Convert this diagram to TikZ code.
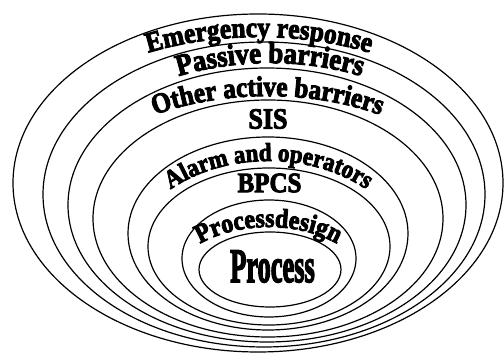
\documentclass[tikz,border=0pt]{standalone}
\usepackage{fontspec}
\setmainfont{Liberation Serif}
\newfontfamily\heavy[BoldFeatures={FakeBold=3.5}]{Liberation Serif}
\usetikzlibrary{decorations.text}
\newcommand\lab[1]{\heavy\bfseries\fontsize{#1}{#1}\selectfont}
\newcommand\vst[1]{\scalebox{1}[1.12]{#1}}
\tikzset{
  ring/.style={line width=1.2pt},
  flat/.style={font=\lab{#1}, inner sep=0pt}
}
\begin{document}
\begin{tikzpicture}[x=1pt,y=1pt]
\useasboundingbox (0,0) rectangle (504,353);
% nested rings
\draw[ring] (258,170) ellipse [x radius=245pt, y radius=169pt];
\draw[ring] (264,158.5) ellipse [x radius=221pt, y radius=152.5pt];
\draw[ring] (267,148) ellipse [x radius=199pt, y radius=137pt];
\draw[ring] (268,134.5) ellipse [x radius=175pt, y radius=118.5pt];
\draw[ring] (268,119.5) ellipse [x radius=140pt, y radius=96.5pt];
\draw[ring] (269,106.5) ellipse [x radius=121pt, y radius=78.5pt];
\draw[ring] (269,94.5) ellipse [x radius=87pt, y radius=58.5pt];
\draw[ring] (270,83.5) ellipse [x radius=71pt, y radius=37.5pt];
% curved labels (baselines are elliptic arcs, text centred on them)
\path[decorate, decoration={text effects along path, text={Emergency response}, text align=center,
  text effects/.cd, text along path, characters={font=\lab{25.5}}, character command=\vst}]
  ([shift={(125:254pt and 157.5pt)}]259,158.5)
  arc[start angle=125, end angle=55, x radius=254pt, y radius=157.5pt];
\path[decorate, decoration={text effects along path, text={Passive barriers}, text align=center,
  text effects/.cd, text along path, characters={font=\lab{27}}, character command=\vst}]
  ([shift={(125:216pt and 140pt)}]270,150)
  arc[start angle=125, end angle=55, x radius=216pt, y radius=140pt];
\path[decorate, decoration={text effects along path, text={Other active barriers}, text align=center,
  text effects/.cd, text along path, characters={font=\lab{25.4}}, character command=\vst}]
  ([shift={(132:209pt and 120pt)}]267.5,137)
  arc[start angle=132, end angle=48, x radius=209pt, y radius=120pt];
\path[decorate, decoration={text effects along path, text={Alarm and operators}, text align=center,
  text effects/.cd, text along path, characters={font=\lab{23}}, character command=\vst}]
  ([shift={(150:140pt and 100pt)}]268.5,92)
  arc[start angle=150, end angle=30, x radius=140pt, y radius=100pt];
\path[decorate, decoration={text effects along path, text={Processdesign}, text align=center,
  text effects/.cd, text along path, characters={font=\lab{24}}, character command=\vst}]
  ([shift={(150:100pt and 62pt)}]268.5,64)
  arc[start angle=150, end angle=30, x radius=100pt, y radius=62pt];
% straight labels
\node[flat=26] (sis) at (268,234) {\vst{SIS}};
\node[flat=25] (bpcs) at (269.5,170) {\vst{BPCS}};
\node[flat=48, anchor=base] (process) at (272.5,71) {\scalebox{0.55}[1]{Process}};
\end{tikzpicture}
\end{document}
